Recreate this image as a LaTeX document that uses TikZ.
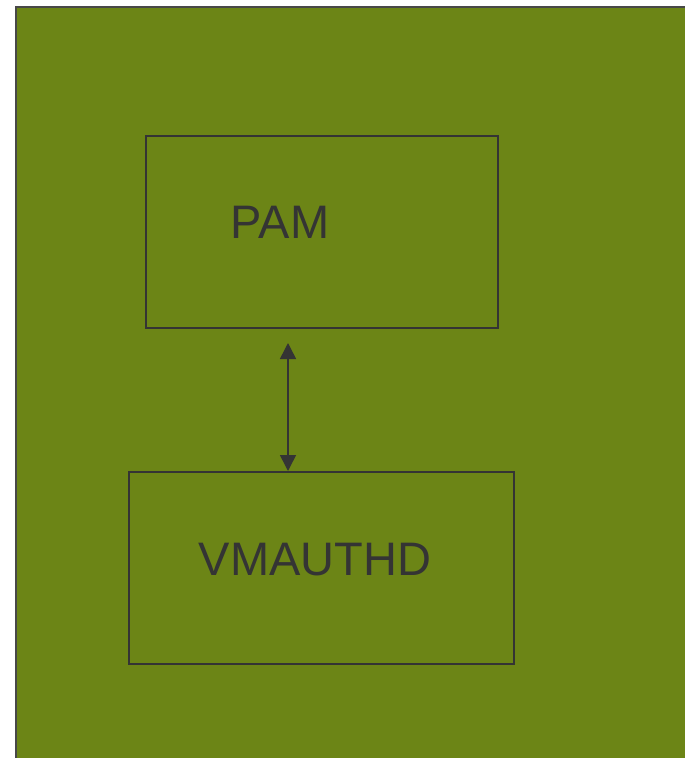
\documentclass[tikz,border=0pt]{standalone}
\usepackage{fontspec}
\setmainfont{Liberation Sans}
\usetikzlibrary{arrows.meta}
\definecolor{olivebg}{RGB}{108,133,22}
\definecolor{inkgray}{RGB}{52,52,52}

\begin{document}
\begin{tikzpicture}[x=1pt,y=-1pt,
  box/.style={draw=inkgray, line width=1.5pt, inner sep=0pt, anchor=north west},
  label/.style={text=inkgray, font=\fontsize{47}{50}\selectfont, inner sep=0pt}]
\useasboundingbox (0,0) rectangle (685,758);
\clip (0,0) rectangle (685,758);
\filldraw[fill=olivebg, draw=inkgray!90, line width=2pt] (16,7) rectangle (700,770);
\node[box, minimum width=352pt, minimum height=192pt] (pambox) at (145,135) {};
\node[box, minimum width=385pt, minimum height=192pt] (vmauthdbox) at (128,471) {};
\node[label] (pam) at (280,222) {PAM};
\node[label] (vmauthd) at (315,560) {VMAUTHD};
\coordinate (arrowtop) at (288,343);
\draw[inkgray, line width=1.5pt, {Triangle[length=16pt,width=16pt]}-{Triangle[length=16pt,width=16pt]}] (arrowtop) -- (arrowtop |- vmauthdbox.north);
\end{tikzpicture}
\end{document}
